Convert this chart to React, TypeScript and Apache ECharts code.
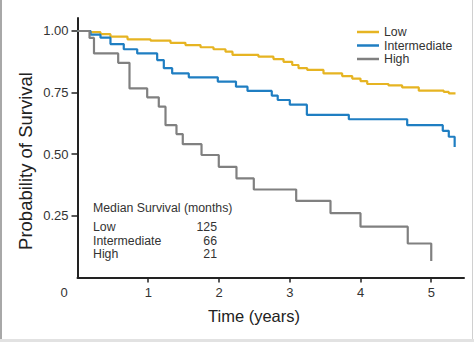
import React, { useEffect, useRef } from "react";
import * as echarts from "echarts";

// Kaplan-Meier step points: time (years) at which survival drops, and the new survival value
const lowTime = [0, 0.184, 0.325, 0.466, 0.707, 1.032, 1.314, 1.526, 1.739, 1.922, 2.092, 2.191, 2.558, 2.77, 2.912, 3.035, 3.124, 3.247, 3.477, 3.741, 3.883, 4.0, 4.095, 4.396, 4.589, 4.824, 5.177, 5.248, 5.343];
const lowSurv = [1.0, 0.995, 0.987, 0.977, 0.966, 0.961, 0.952, 0.943, 0.934, 0.926, 0.916, 0.903, 0.896, 0.886, 0.875, 0.862, 0.849, 0.842, 0.828, 0.817, 0.807, 0.797, 0.785, 0.779, 0.771, 0.758, 0.753, 0.747, 0.747];

const intTime = [0, 0.184, 0.325, 0.466, 0.654, 0.844, 1.126, 1.22, 1.338, 1.573, 1.983, 2.24, 2.403, 2.746, 2.83, 3.001, 3.242, 3.835, 4.66, 5.163, 5.248, 5.331];
const intSurv = [1.0, 0.985, 0.973, 0.947, 0.926, 0.909, 0.882, 0.849, 0.828, 0.812, 0.795, 0.774, 0.757, 0.738, 0.72, 0.701, 0.66, 0.642, 0.618, 0.595, 0.571, 0.529];

const highTime = [0, 0.17, 0.233, 0.575, 0.735, 0.985, 1.149, 1.244, 1.399, 1.488, 1.753, 1.997, 2.247, 2.492, 3.091, 3.576, 4.0, 4.668, 5.0];
const highSurv = [1.0, 0.972, 0.909, 0.871, 0.767, 0.731, 0.693, 0.618, 0.582, 0.541, 0.497, 0.449, 0.402, 0.357, 0.311, 0.261, 0.206, 0.138, 0.067];

const seriesNames = ["Low", "Intermediate", "High"];
const yTicks = [0.25, 0.5, 0.75, 1.0];
const xTicks = [1, 2, 3, 4, 5];

const medianTitle = "Median Survival (months)";
const medianGroups = ["Low", "Intermediate", "High"];
const medianMonths = ["125", "66", "21"];

const FONT = "'Liberation Sans', Arial, sans-serif";
const TEXT = "#333333";
const colors = ["#E6B422", "#1F7EC2", "#808080"];

function pairs(t: number[], v: number[]) {
  return t.map((x, i) => [x, v[i]]);
}

export default function App() {
  const ref = useRef<HTMLDivElement>(null);
  useEffect(() => {
    if (!ref.current) return;
    const chart = echarts.init(ref.current, null, { renderer: "svg" });
    const dataSets = [pairs(lowTime, lowSurv), pairs(intTime, intSurv), pairs(highTime, highSurv)];
    const tableGraphics: any[] = [
      {
        type: "text",
        left: 93,
        top: 202,
        style: { text: medianTitle, font: `12.3px ${FONT}`, fill: TEXT },
      },
    ];
    medianGroups.forEach((g, i) => {
      const y = 227 + i * 13.6;
      tableGraphics.push({
        type: "text",
        x: 93,
        y,
        style: { text: g, font: `12.3px ${FONT}`, fill: TEXT, align: "left", verticalAlign: "middle" },
      });
      tableGraphics.push({
        type: "text",
        x: 217,
        y,
        style: { text: medianMonths[i], font: `12.3px ${FONT}`, fill: TEXT, align: "right", verticalAlign: "middle" },
      });
    });

    chart.setOption({
      animation: false,
      backgroundColor: "#ffffff",
      grid: { left: 77.5, top: 18, right: 10, bottom: 64.5, containLabel: false },
      legend: {
        orient: "vertical",
        left: 352,
        top: 20.25,
        itemWidth: 22,
        itemHeight: 2.5,
        itemGap: 0,
        icon: "rect",
        textStyle: { fontFamily: FONT, fontSize: 12.3, color: TEXT, lineHeight: 13.5 },
        data: seriesNames,
      },
      xAxis: {
        type: "value",
        min: 0,
        max: 5.463,
        splitLine: { show: false },
        axisLine: { show: true, lineStyle: { color: "#222", width: 2 } },
        axisTick: { show: true, length: 5, lineStyle: { color: "#222", width: 1.5 }, customValues: xTicks },
        axisLabel: {
          customValues: xTicks,
          margin: 8,
          fontFamily: FONT,
          fontSize: 13,
          color: TEXT,
          formatter: (v: number) => String(v),
        },
      },
      yAxis: {
        type: "value",
        min: 0,
        max: 1.0527,
        splitLine: { show: false },
        axisLine: { show: true, lineStyle: { color: "#222", width: 2 } },
        axisTick: { show: true, length: 6, lineStyle: { color: "#222", width: 1.5 }, customValues: yTicks },
        axisLabel: {
          customValues: yTicks,
          margin: 9,
          fontFamily: FONT,
          fontSize: 13,
          color: TEXT,
          formatter: (v: number) => v.toFixed(2),
        },
      },
      series: seriesNames.map((name, i) => ({
        name,
        type: "line",
        step: "end",
        showSymbol: false,
        symbol: "none",
        data: dataSets[i],
        color: colors[i],
        lineStyle: { color: colors[i], width: 2.2 },
        z: 2 + i,
      })),
      graphic: [
        { type: "rect", shape: { x: 0, y: 0, width: 2, height: 342 }, style: { fill: "#a8a8a8" } },
        { type: "rect", shape: { x: 0, y: 339, width: 474, height: 3 }, style: { fill: "#e2e2e2" } },
        { type: "line", shape: { x1: 472.5, y1: 0, x2: 472.5, y2: 339 }, style: { stroke: "#d0d0d0", lineWidth: 1 } },
        {
          type: "text",
          x: 64,
          y: 292,
          style: { text: "0", font: `13px ${FONT}`, fill: TEXT, align: "center", verticalAlign: "middle" },
        },
        {
          type: "text",
          x: 254,
          y: 316,
          style: { text: "Time (years)", font: `16.5px ${FONT}`, fill: "#222", align: "center", verticalAlign: "middle" },
        },
        {
          type: "text",
          x: 25,
          y: 161,
          rotation: Math.PI / 2,
          style: { text: "Probability of Survival", font: `18.5px ${FONT}`, fill: "#222", align: "center", verticalAlign: "middle" },
        },
        ...tableGraphics,
      ],
    });
    return () => chart.dispose();
  }, []);
  return <div ref={ref} style={{ position: "absolute", left: 0, top: 0, width: 474, height: 342 }} />;
}
